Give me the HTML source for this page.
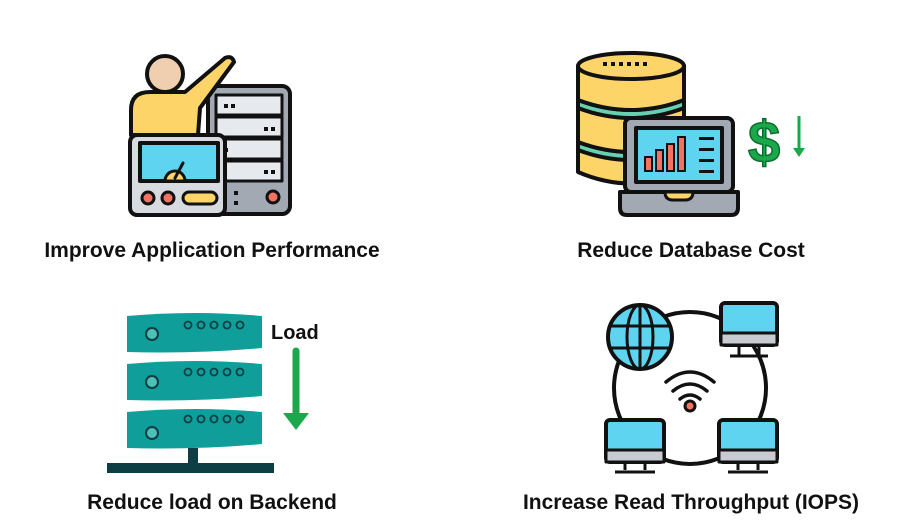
<!DOCTYPE html>
<html><head><meta charset="utf-8"><style>
html,body{margin:0;padding:0;background:#fff;}
svg{display:block}
text{font-family:"Liberation Sans",Arial,sans-serif;font-weight:bold;fill:#111;}
</style></head><body>
<svg width="900" height="529" viewBox="0 0 900 529" xmlns="http://www.w3.org/2000/svg">
<g stroke="#111" stroke-width="4" stroke-linejoin="round" stroke-linecap="round">
<!-- Icon 1 -->
<rect x="208" y="86" width="82" height="128" rx="8" fill="#a3a9b3"/>
<rect x="216" y="95" width="66" height="20" fill="#e6e9ee" stroke-width="3"/>
<rect x="216" y="117" width="66" height="20" fill="#e6e9ee" stroke-width="3"/>
<rect x="216" y="139" width="66" height="20" fill="#e6e9ee" stroke-width="3"/>
<rect x="216" y="161" width="66" height="20" fill="#e6e9ee" stroke-width="3"/>
<path d="M131 135 L131 110 Q131 92 150 92 L185 92 L225 58 Q232 55 234 62 L200 108 L198 135 Z" fill="#fcd468"/>
<circle cx="165" cy="74" r="18" fill="#f0cfb0"/>
<rect x="130" y="135" width="95" height="80" rx="7" fill="#d7dadf"/>
<rect x="140" y="143" width="78" height="38" fill="#5fd4f0"/>
<path d="M165 181 A10 10 0 0 1 185 181 Z" fill="#fcd468" stroke-width="3"/>
<line x1="175" y1="178" x2="183" y2="163" stroke-width="3"/>
<circle cx="148" cy="198" r="6" fill="#f2735f" stroke-width="3"/>
<circle cx="168" cy="198" r="6" fill="#f2735f" stroke-width="3"/>
<rect x="183" y="192" width="34" height="12" rx="6" fill="#fcd468" stroke-width="3"/>
<circle cx="273" cy="197" r="6" fill="#f2735f" stroke-width="3"/>
</g>
<g fill="#111">
<rect x="224" y="104" width="4" height="4"/><rect x="231" y="104" width="4" height="4"/>
<rect x="264" y="127" width="4" height="4"/><rect x="271" y="127" width="4" height="4"/>
<rect x="224" y="148" width="4" height="4"/>
<rect x="264" y="170" width="4" height="4"/><rect x="271" y="170" width="4" height="4"/>
<rect x="234" y="191" width="4" height="4"/><rect x="234" y="201" width="4" height="4"/>
</g>
<!-- Icon 2 -->
<g stroke="#111" stroke-width="4" stroke-linejoin="round">
<path d="M578 150 L578 172 Q631 195 684 172 L684 150 Z" fill="#fcd468"/>
<path d="M578 142 Q631 162 684 142 L684 150 Q631 170 578 150 Z" fill="#64d2b0"/>
<path d="M578 108 L578 142 Q631 162 684 142 L684 108 Z" fill="#fcd468"/>
<path d="M578 100 Q631 120 684 100 L684 108 Q631 128 578 108 Z" fill="#64d2b0"/>
<path d="M578 66 L578 100 Q631 120 684 100 L684 66 Z" fill="#fcd468"/>
<ellipse cx="631" cy="66" rx="53" ry="13" fill="#fcd468"/>
<rect x="625" y="118" width="108" height="74" rx="6" fill="#a3a9b3"/>
<rect x="636" y="128" width="86" height="54" fill="#5fd4f0"/>
<path d="M620 192 L738 192 L738 208 Q738 215 731 215 L627 215 Q620 215 620 208 Z" fill="#a3a9b3"/>
<path d="M665 192 L693 192 Q693 200 685 200 L673 200 Q665 200 665 192 Z" fill="#fcd468" stroke-width="3"/>
</g>
<g fill="#111"><rect x="603" y="62" width="4" height="4"/><rect x="611" y="62" width="4" height="4"/><rect x="619" y="62" width="4" height="4"/><rect x="627" y="62" width="4" height="4"/><rect x="635" y="62" width="4" height="4"/><rect x="643" y="62" width="4" height="4"/>
<rect x="699" y="137" width="15" height="3"/><rect x="699" y="148" width="15" height="3"/><rect x="699" y="159" width="15" height="3"/><rect x="699" y="170" width="15" height="3"/></g>
<g stroke="#111" stroke-width="2" fill="#f2735f">
<rect x="645" y="157" width="7" height="14"/><rect x="656" y="150" width="7" height="21"/><rect x="667" y="144" width="7" height="27"/><rect x="678" y="137" width="7" height="34"/>
</g>
<text x="748" y="162" style="font-size:58px;fill:#1aa84a;stroke:#0b6e2e;stroke-width:1.5">$</text>
<line x1="799" y1="116" x2="799" y2="150" stroke="#1aa84a" stroke-width="3"/>
<path d="M793 148 L805 148 L799 157 Z" fill="#1aa84a"/>
<!-- Icon 3 -->
<g fill="#0f9e99">
<path d="M127 316 Q195 310 262 316 L262 348 Q195 354 127 352 Z"/>
<path d="M127 364 Q195 358 262 364 L262 396 Q195 402 127 400 Z"/>
<path d="M127 412 Q195 406 262 412 L262 444 Q195 450 127 448 Z"/>
</g>
<g fill="#4dc1b5" stroke="#0d3d45" stroke-width="2">
<circle cx="152" cy="334" r="6"/><circle cx="152" cy="382" r="6"/><circle cx="152" cy="433" r="6"/>
</g>
<g fill="none" stroke="#0d3d45" stroke-width="1.8">
<circle cx="188" cy="325" r="3.5"/><circle cx="201" cy="325" r="3.5"/><circle cx="214" cy="325" r="3.5"/><circle cx="227" cy="325" r="3.5"/><circle cx="240" cy="325" r="3.5"/>
<circle cx="188" cy="372" r="3.5"/><circle cx="201" cy="372" r="3.5"/><circle cx="214" cy="372" r="3.5"/><circle cx="227" cy="372" r="3.5"/><circle cx="240" cy="372" r="3.5"/>
<circle cx="188" cy="419" r="3.5"/><circle cx="201" cy="419" r="3.5"/><circle cx="214" cy="419" r="3.5"/><circle cx="227" cy="419" r="3.5"/><circle cx="240" cy="419" r="3.5"/>
</g>
<rect x="188" y="448" width="10" height="16" fill="#0d3d45"/>
<rect x="107" y="463" width="167" height="10" fill="#0d3d45"/>
<text x="271" y="339" style="font-size:20px">Load</text>
<line x1="296" y1="351" x2="296" y2="414" stroke="#1aa84a" stroke-width="7" stroke-linecap="round"/>
<path d="M283 413 L309 413 L296 430 Z" fill="#1aa84a"/>
<!-- Icon 4 -->
<g stroke="#111" stroke-width="4" stroke-linejoin="round">
<circle cx="690" cy="388" r="76" fill="#fff"/>
<circle cx="640" cy="337" r="32" fill="#5fd4f0"/>
<ellipse cx="640" cy="337" rx="13" ry="32" fill="none" stroke-width="3"/>
<line x1="640" y1="305" x2="640" y2="369" stroke-width="3"/>
<line x1="610" y1="326" x2="670" y2="326" stroke-width="3"/>
<line x1="610" y1="348" x2="670" y2="348" stroke-width="3"/>
<path d="M739 345 L739 355 M759 345 L759 355 M730 356 L768 356" fill="none" stroke-width="3"/>
<rect x="721" y="303" width="56" height="42" rx="4" fill="#5fd4f0"/>
<rect x="721" y="333" width="56" height="12" fill="#c8ccd2" stroke-width="3"/>
<path d="M625 461 L625 470 M645 461 L645 470 M615 472 L655 472" fill="none" stroke-width="3"/>
<rect x="606" y="420" width="58" height="42" rx="4" fill="#5fd4f0"/>
<rect x="606" y="450" width="58" height="12" fill="#c8ccd2" stroke-width="3"/>
<path d="M738 461 L738 470 M758 461 L758 470 M728 472 L768 472" fill="none" stroke-width="3"/>
<rect x="719" y="420" width="58" height="42" rx="4" fill="#5fd4f0"/>
<rect x="719" y="450" width="58" height="12" fill="#c8ccd2" stroke-width="3"/>
<g fill="none" stroke-width="3.5" stroke-linecap="round">
<path d="M666 382 Q690 362 714 382"/><path d="M673 391 Q690 377 707 391"/><path d="M680 399 Q690 391 700 399"/>
</g>
<circle cx="690" cy="406" r="5" fill="#f2735f" stroke-width="3"/>
</g>
<!-- Labels -->
<text x="212" y="257" text-anchor="middle" style="font-size:21px">Improve Application Performance</text>
<text x="691" y="257" text-anchor="middle" style="font-size:21px">Reduce Database Cost</text>
<text x="212" y="509" text-anchor="middle" style="font-size:21px">Reduce load on Backend</text>
<text x="691" y="509" text-anchor="middle" style="font-size:21px">Increase Read Throughput (IOPS)</text>
</svg>
</body></html>
